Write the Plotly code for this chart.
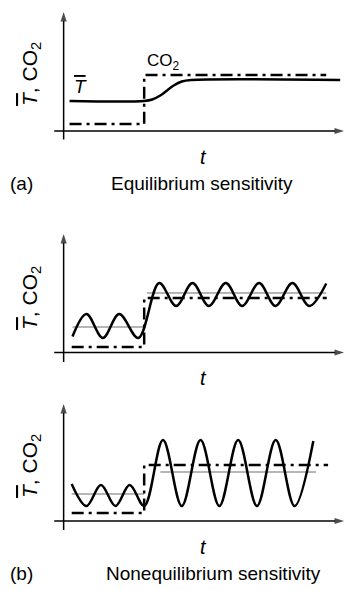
import plotly.graph_objects as go

# ---------------- data (schematic values) ----------------
# Panel (a): equilibrium sensitivity
a_T_t = [0.22, 3.0, 3.3, 3.6, 3.85, 4.1, 4.4, 4.75, 10.3]
a_T_y = [3.0, 3.0, 3.15, 3.55, 4.05, 4.55, 4.95, 5.1, 5.1]
a_C_t = [0.22, 3.0, 3.0, 9.78]
a_C_y = [0.7, 0.7, 5.6, 5.6]

# Panel (b, top): moderate oscillations
b1_T_t = [0.33, 0.85, 1.46, 2.07, 2.78, 3.56, 4.19, 4.8, 5.41, 6.04, 6.65, 7.28, 7.89, 8.52, 9.15, 9.78]
b1_T_y = [1.6, 3.85, 1.45, 3.85, 1.45, 6.95, 4.65, 6.95, 4.65, 6.95, 4.65, 6.95, 4.65, 6.95, 4.65, 6.9]
b1_M_left_t = [0.33, 3.0]
b1_M_left_y = [2.55, 2.55]
b1_M_right_t = [3.1, 9.78]
b1_M_right_y = [5.95, 5.95]
b1_C_t = [0.3, 3.0, 3.0, 9.8]
b1_C_y = [0.55, 0.55, 5.45, 5.45]

# Panel (b, bottom): large oscillations
b2_T_t = [0.3, 0.85, 1.39, 1.93, 2.46, 3.0, 3.7, 4.4, 5.1, 5.8, 6.5, 7.2, 7.9, 8.6, 9.3]
b2_T_y = [3.7, 1.5, 3.6, 1.5, 3.6, 1.5, 8.1, 1.5, 8.1, 1.5, 8.1, 1.5, 8.1, 1.5, 8.0]
b2_M_left_t = [0.3, 3.0]
b2_M_left_y = [2.7, 2.7]
b2_M_right_t = [3.6, 9.4]
b2_M_right_y = [4.9, 4.9]
b2_C_t = [0.3, 3.0, 3.0, 9.85]
b2_C_y = [0.8, 0.8, 5.6, 5.6]

# ---------------- layout geometry ----------------
W, H = 352, 590
PX_PER_T = 27.0
X0_PX = 64.0          # pixel column of the y axis
PX_PER_Y = 10.0
# (band top, band bottom, x-axis pixel row, y-arrow top value, y-axis bottom value)
panels = [
    (0, 192, 131.0, 12.0, -0.85),
    (192, 395, 352.5, 11.95, -0.95),
    (395, 590, 521.0, 11.8, -0.9),
]
FONT = "Liberation Sans, Arial, Helvetica, sans-serif"
DASHDOT = "12px,5px,3px,5px"

fig = go.Figure()

xr = [-X0_PX / PX_PER_T, (W + 2 - X0_PX) / PX_PER_T]
series = [
    (a_T_t, a_T_y, a_C_t, a_C_y, [], "spline"),
    (b1_T_t, b1_T_y, b1_C_t, b1_C_y,
     [(b1_M_left_t, b1_M_left_y), (b1_M_right_t, b1_M_right_y)], "spline"),
    (b2_T_t, b2_T_y, b2_C_t, b2_C_y,
     [(b2_M_left_t, b2_M_left_y), (b2_M_right_t, b2_M_right_y)], "spline"),
]

annotations = []
for i, ((top, bot, axis_px, ytop, ybot), (tt, ty, ct, cy, means, shape)) in enumerate(zip(panels, series)):
    n = "" if i == 0 else str(i + 1)
    xa, ya = "x" + n, "y" + n
    fig.layout["xaxis" + n] = dict(range=xr, domain=[0, 1], visible=False, anchor=ya, fixedrange=True)
    fig.layout["yaxis" + n] = dict(
        range=[(axis_px - bot) / PX_PER_Y, (axis_px - top) / PX_PER_Y],
        domain=[1 - bot / H, 1 - top / H], visible=False, anchor=xa, fixedrange=True)
    # axes drawn as lines ending in arrow markers
    x_end = (W - 6 - X0_PX) / PX_PER_T
    fig.add_trace(go.Scatter(x=[-0.35, x_end], y=[0, 0], mode="lines+markers", xaxis=xa, yaxis=ya,
                             line=dict(color="black", width=1.5),
                             marker=dict(symbol="arrow", angleref="previous", size=[0, 10],
                                         color="black", line=dict(width=0)),
                             hoverinfo="skip", cliponaxis=False))
    fig.add_trace(go.Scatter(x=[0, 0], y=[ybot, ytop - 0.1], mode="lines+markers", xaxis=xa, yaxis=ya,
                             line=dict(color="black", width=1.5),
                             marker=dict(symbol="arrow", angleref="previous", size=[0, 10],
                                         color="black", line=dict(width=0)),
                             hoverinfo="skip", cliponaxis=False))
    for mt, my in means:
        fig.add_trace(go.Scatter(x=mt, y=my, mode="lines", xaxis=xa, yaxis=ya,
                                 line=dict(color="#6e6e6e", width=1.1), hoverinfo="skip"))
    fig.add_trace(go.Scatter(x=ct, y=cy, mode="lines", xaxis=xa, yaxis=ya,
                             line=dict(color="black", width=2.5, dash=DASHDOT), hoverinfo="skip"))
    fig.add_trace(go.Scatter(x=tt, y=ty, mode="lines", xaxis=xa, yaxis=ya,
                             line=dict(color="black", width=2.5, shape=shape, smoothing=1.0),
                             hoverinfo="skip"))

def ptext(txt, px, py, size=19, angle=0, xanchor="center"):
    annotations.append(dict(text=txt, x=px / W, y=1 - py / H, xref="paper", yref="paper",
                            showarrow=False, textangle=angle, xanchor=xanchor, yanchor="middle",
                            font=dict(family=FONT, size=size, color="black")))

TBAR = '<i><span style="text-decoration:overline">T</span></i>'
ylab = TBAR + ", CO<sub>2</sub>"
for cy_px in (74, 298, 466):
    ptext(ylab, 31, cy_px, size=21, angle=-90)
for ty_px in (157, 378, 547):
    ptext("<i>t</i>", 203, ty_px, size=20)
ptext("CO<sub>2</sub>", 163, 62, size=17)
ptext(TBAR, 80, 86, size=19)
ptext("(a)", 8, 183, size=19, xanchor="left")
ptext("Equilibrium sensitivity", 202, 183, size=19)
ptext("(b)", 8, 573, size=19, xanchor="left")
ptext("Nonequilibrium sensitivity", 213, 573, size=19)

fig.update_layout(width=W, height=H, margin=dict(l=0, r=0, t=0, b=0),
                  paper_bgcolor="white", plot_bgcolor="white", showlegend=False,
                  annotations=annotations, font=dict(family=FONT))
fig.write_html("out.html", config={"displayModeBar": False},
               post_script="document.body.style.margin='0';document.body.style.padding='0';")
